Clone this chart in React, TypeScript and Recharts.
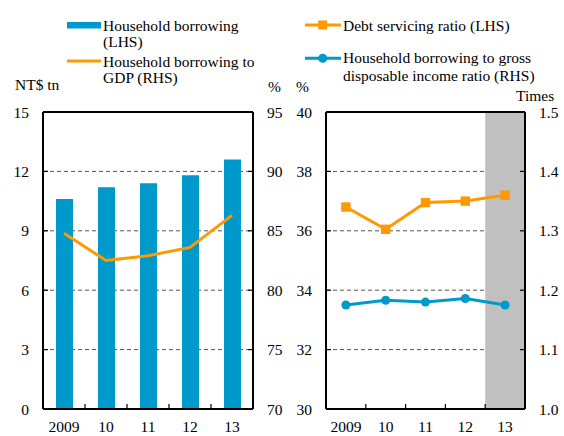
import React from 'react';
import {
  ComposedChart,
  Bar,
  Line,
  XAxis,
  YAxis,
  CartesianGrid,
  ReferenceLine,
} from 'recharts';

// ---- Data ----
const years = ['2009', '10', '11', '12', '13'];
const householdBorrowing = [10.6, 11.2, 11.4, 11.8, 12.6]; // NT$ tn (LHS)
const borrowingToGdp = [84.8, 82.5, 82.9, 83.6, 86.3]; // % (RHS)
const debtServicingRatio = [36.8, 36.05, 36.95, 37.0, 37.2]; // % (LHS)
const borrowingToIncome = [1.175, 1.183, 1.18, 1.186, 1.175]; // Times (RHS)
const shadedYears = ['13'];

const leftTicksL = [0, 3, 6, 9, 12, 15];
const leftTicksR = [70, 75, 80, 85, 90, 95];
const rightTicksL = [30, 32, 34, 36, 38, 40];
const rightTicksR = [1.0, 1.1, 1.2, 1.3, 1.4, 1.5];

const legendLabels = {
  bar: ['Household borrowing', '(LHS)'],
  gdp: ['Household borrowing to', 'GDP (RHS)'],
  dsr: ['Debt servicing ratio (LHS)'],
  income: ['Household borrowing to gross', 'disposable income ratio (RHS)'],
};

const leftData = years.map((y, i) => ({
  year: y,
  borrowing: householdBorrowing[i],
  gdp: borrowingToGdp[i],
}));
const rightData = years.map((y, i) => ({
  year: y,
  dsr: debtServicingRatio[i],
  income: borrowingToIncome[i],
  shade: shadedYears.includes(y) ? 40 : null,
}));

// ---- Styles ----
const FONT = 'Liberation Serif';
const FS = 15.5;
const BLUE = '#0099CC';
const ORANGE = '#FF9900';
const GREY = '#C0C0C0';
const tickStyle = { fill: '#000', fontSize: FS, fontFamily: FONT, style: { fontFamily: FONT } };
const axisLineStyle = { stroke: '#000', strokeWidth: 2 };
const tickLineStyle = { stroke: '#000', strokeWidth: 1.2 };

function XTick(props: any) {
  const { x, y, payload, index, half } = props;
  return (
    <g>
      <text
        x={x}
        y={y + 22.7}
        textAnchor="middle"
        fill="#000"
        fontSize={FS}
        fontFamily={FONT}
        style={{ fontFamily: FONT }}
      >
        {payload.value}
      </text>
      {index < years.length - 1 && (
        <line x1={x + half} x2={x + half} y1={y} y2={y - 5} stroke="#000" strokeWidth={1.2} />
      )}
    </g>
  );
}

const renderSquare = (p: any) => (
  <rect key={`sq-${p.index}`} x={p.cx - 4.7} y={p.cy - 4.7} width={9.4} height={9.4} fill={ORANGE} />
);
const renderCircle = (p: any) => (
  <circle key={`ci-${p.index}`} cx={p.cx} cy={p.cy} r={4.5} fill={BLUE} />
);

function LeftPanel() {
  return (
    <ComposedChart
      width={290}
      height={436}
      data={leftData}
      margin={{ top: 112, right: 0, bottom: 0, left: 0 }}
    >
      <CartesianGrid yAxisId="l" vertical={false} stroke="#555" strokeDasharray="4 3" />
      <XAxis
        dataKey="year"
        height={27}
        interval={0}
        tickSize={0}
        tickMargin={0}
        tickLine={false}
        axisLine={axisLineStyle}
        tick={<XTick half={21} />}
      />
      <YAxis
        yAxisId="l"
        orientation="left"
        width={43}
        domain={[0, 15]}
        ticks={leftTicksL}
        interval={0}
        tickSize={-5}
        tickMargin={19}
        tick={tickStyle}
        axisLine={axisLineStyle}
        tickLine={tickLineStyle}
      />
      <YAxis
        yAxisId="r"
        orientation="right"
        width={37}
        domain={[70, 95]}
        ticks={leftTicksR}
        interval={0}
        tickSize={-5}
        tickMargin={19}
        tick={tickStyle}
        axisLine={axisLineStyle}
        tickLine={tickLineStyle}
      />
      <ReferenceLine yAxisId="l" y={15} stroke="#000" strokeWidth={2} />
      <Bar yAxisId="l" dataKey="borrowing" fill={BLUE} barSize={17} isAnimationActive={false} />
      <Line
        yAxisId="r"
        dataKey="gdp"
        stroke={ORANGE}
        strokeWidth={3}
        dot={false}
        type="linear"
        isAnimationActive={false}
      />
    </ComposedChart>
  );
}

function RightPanel() {
  return (
    <ComposedChart
      width={274}
      height={436}
      data={rightData}
      barCategoryGap={0}
      margin={{ top: 112, right: 0, bottom: 0, left: 0 }}
    >
      <CartesianGrid yAxisId="l" vertical={false} stroke="#555" strokeDasharray="4 3" />
      <XAxis
        dataKey="year"
        height={27}
        interval={0}
        tickSize={0}
        tickMargin={0}
        tickLine={false}
        axisLine={axisLineStyle}
        tick={<XTick half={19.9} />}
      />
      <YAxis
        yAxisId="l"
        orientation="left"
        width={36}
        domain={[30, 40]}
        ticks={rightTicksL}
        interval={0}
        tickSize={-5}
        tickMargin={19}
        tick={tickStyle}
        axisLine={axisLineStyle}
        tickLine={tickLineStyle}
      />
      <YAxis
        yAxisId="r"
        orientation="right"
        width={39}
        domain={[1.0, 1.5]}
        ticks={rightTicksR}
        interval={0}
        tickSize={-5}
        tickMargin={19}
        tick={tickStyle}
        tickFormatter={(v: number) => v.toFixed(1)}
        axisLine={axisLineStyle}
        tickLine={tickLineStyle}
      />
      <Bar yAxisId="l" dataKey="shade" fill={GREY} isAnimationActive={false} />
      <ReferenceLine yAxisId="l" y={40} stroke="#000" strokeWidth={2} />
      <Line
        yAxisId="l"
        dataKey="dsr"
        stroke={ORANGE}
        strokeWidth={3}
        dot={renderSquare}
        type="linear"
        isAnimationActive={false}
      />
      <Line
        yAxisId="r"
        dataKey="income"
        stroke={BLUE}
        strokeWidth={3}
        dot={renderCircle}
        type="linear"
        isAnimationActive={false}
      />
    </ComposedChart>
  );
}

function Overlay() {
  const t = { fill: '#000', fontSize: FS, fontFamily: FONT, style: { fontFamily: FONT } } as const;
  return (
    <svg
      width={564}
      height={436}
      style={{ position: 'absolute', left: 0, top: 0, pointerEvents: 'none' }}
    >
      {/* left legend */}
      <rect x={67} y={22} width={34} height={6.5} fill={BLUE} />
      <text x={103} y={30.7} {...t}>{legendLabels.bar[0]}</text>
      <text x={103} y={47.3} {...t}>{legendLabels.bar[1]}</text>
      <line x1={67} x2={101} y1={61} y2={61} stroke={ORANGE} strokeWidth={3} />
      <text x={103} y={66.7} {...t}>{legendLabels.gdp[0]}</text>
      <text x={103} y={83.3} {...t}>{legendLabels.gdp[1]}</text>
      {/* right legend */}
      <line x1={305} x2={341} y1={25} y2={25} stroke={ORANGE} strokeWidth={3} />
      <rect x={318.2} y={20.5} width={9} height={9} fill={ORANGE} />
      <text x={343} y={30.7} {...t}>{legendLabels.dsr[0]}</text>
      <line x1={305} x2={341} y1={58.3} y2={58.3} stroke={BLUE} strokeWidth={3} />
      <circle cx={322.7} cy={58.3} r={4.5} fill={BLUE} />
      <text x={343} y={63.3} {...t}>{legendLabels.income[0]}</text>
      <text x={343} y={80.7} {...t}>{legendLabels.income[1]}</text>
      {/* axis unit labels */}
      <text x={15} y={90} {...t}>NT$ tn</text>
      <text x={268} y={91.7} {...t}>%</text>
      <text x={296} y={91.7} {...t}>%</text>
      <text x={516} y={101} {...t}>Times</text>
    </svg>
  );
}

export default function App() {
  return (
    <div
      style={{
        position: 'absolute',
        left: 0,
        top: 0,
        width: 564,
        height: 436,
        background: '#fff',
        overflow: 'hidden',
        fontFamily: FONT,
      }}
    >
      <div style={{ position: 'absolute', left: 0, top: 0 }}>
        <LeftPanel />
      </div>
      <div style={{ position: 'absolute', left: 290, top: 0 }}>
        <RightPanel />
      </div>
      <Overlay />
    </div>
  );
}
